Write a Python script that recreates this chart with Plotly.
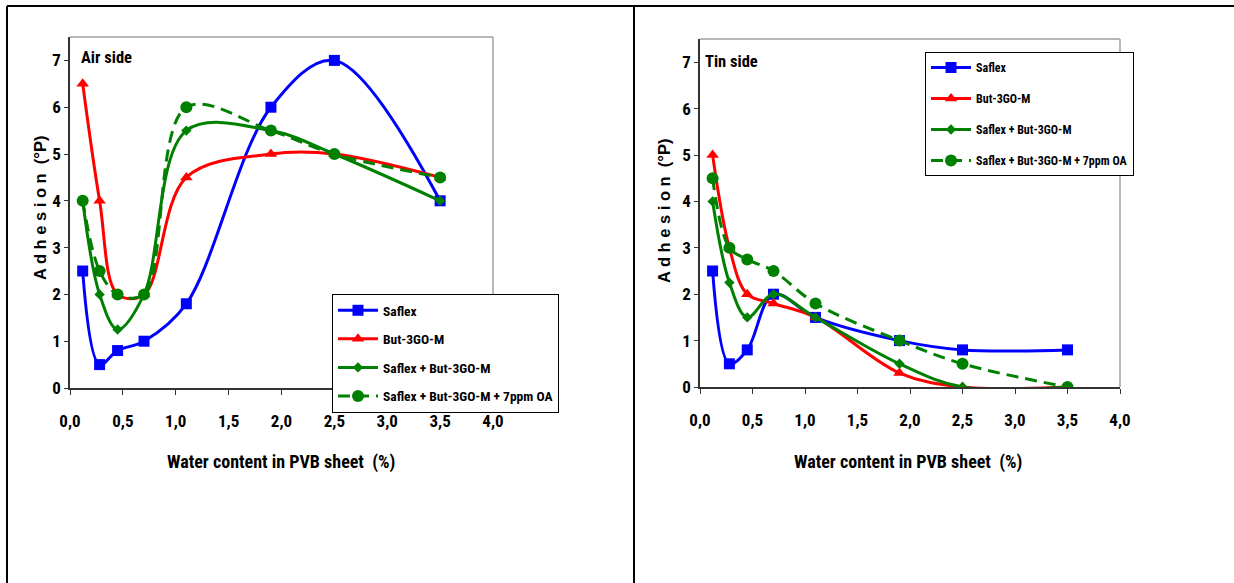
import plotly.graph_objects as go

water = [0.12, 0.28, 0.45, 0.7, 1.1, 1.9, 2.5, 3.5]

air_saflex = [2.5, 0.5, 0.8, 1.0, 1.8, 6.0, 7.0, 4.0]
air_but = [6.5, 4.0, 2.0, 2.0, 4.5, 5.0, 5.0, 4.5]
air_mix = [4.0, 2.0, 1.25, 2.0, 5.5, 5.5, 5.0, 4.0]
air_mix_oa = [4.0, 2.5, 2.0, 2.0, 6.0, 5.5, 5.0, 4.5]

tin_saflex = [2.5, 0.5, 0.8, 2.0, 1.5, 1.0, 0.8, 0.8]
tin_but = [5.0, 3.0, 2.0, 1.8, 1.5, 0.3, 0.0, 0.0]
tin_mix = [4.0, 2.25, 1.5, 2.0, 1.5, 0.5, 0.0, 0.0]
tin_mix_oa = [4.5, 3.0, 2.75, 2.5, 1.8, 1.0, 0.5, 0.0]

names = ["Saflex", "But-3GO-M", "Saflex + But-3GO-M", "Saflex + But-3GO-M + 7ppm OA"]
colors = ["#0000FF", "#FF0000", "#008000", "#008000"]
symbols = ["square", "triangle-up", "diamond", "circle"]
msizes = [11, 11, 8, 12]
dashes = ["solid", "solid", "solid", "12px,7px"]

NARROW = "Roboto Condensed, Liberation Sans Narrow, sans-serif"
BOLD = "Liberation Sans, Arial, sans-serif"

fig = go.Figure()

panels = [
    ("x", "y", "legend", [air_saflex, air_but, air_mix, air_mix_oa]),
    ("x2", "y2", "legend2", [tin_saflex, tin_but, tin_mix, tin_mix_oa]),
]
for xa, ya, leg, series in panels:
    for i, ys in enumerate(series):
        fig.add_trace(go.Scatter(
            x=water, y=ys, name=names[i], xaxis=xa, yaxis=ya, legend=leg,
            legendgroup=f"{leg}_{i}",
            mode="lines+markers",
            line=dict(color=colors[i], width=3, shape="spline", smoothing=1, dash=dashes[i]),
            marker=dict(symbol=symbols[i], size=msizes[i], color=colors[i]),
        ))

def xaxis_cfg(domain):
    return dict(domain=domain, range=[0, 4], tick0=0, dtick=0.5, tickformat=".1f",
                showgrid=False, zeroline=False, showline=True, linecolor="#333333", linewidth=1.5,
                ticks="outside", ticklen=5, tickcolor="#333333",
                ticklabelstandoff=12,
                tickfont=dict(family=NARROW, size=17, color="black", weight="bold"))

def yaxis_cfg(domain, anchor):
    return dict(domain=domain, anchor=anchor, range=[0, 7.5], tick0=0, dtick=1,
                showgrid=False, zeroline=False, showline=True, linecolor="#333333", linewidth=1.5,
                ticks="outside", ticklen=4, tickcolor="#333333",
                tickfont=dict(family=NARROW, size=17, color="black", weight="bold"))

W, H = 1234, 583
def px(x):
    return x / W
def py(y):
    return 1 - y / H

lx = [px(70), px(493)]
ly = [py(388), py(37)]
rx = [px(700), px(1120)]
ry = [py(387), py(39)]

def legend_cfg(size, gap, x, y):
    return dict(bordercolor="black", borderwidth=1, bgcolor="white",
                font=dict(family=NARROW, size=size, color="black", weight="bold"),
                xanchor="left", yanchor="top", itemwidth=40, tracegroupgap=gap,
                x=x, y=y)

fig.update_layout(
    width=W, height=H,
    margin=dict(l=0, r=0, t=0, b=0, autoexpand=False),
    paper_bgcolor="white", plot_bgcolor="white",
    separators=", ",
    showlegend=True,
    xaxis=dict(**xaxis_cfg(lx), anchor="y"),
    yaxis=yaxis_cfg(ly, "x"),
    xaxis2=dict(**xaxis_cfg(rx), anchor="y2"),
    yaxis2=yaxis_cfg(ry, "x2"),
    legend=legend_cfg(13.5, 8, px(332), py(294)),
    legend2=legend_cfg(12, 12, px(925), py(52)),
)

shapes = [
    # outer frame
    dict(type="line", xref="paper", yref="paper", x0=px(7), x1=1, y0=py(6), y1=py(6), line=dict(color="black", width=2)),
    dict(type="line", xref="paper", yref="paper", x0=px(7), x1=px(7), y0=0, y1=py(6), line=dict(color="black", width=2)),
    dict(type="line", xref="paper", yref="paper", x0=px(634), x1=px(634), y0=0, y1=py(6), line=dict(color="black", width=2)),
    # plot area frames (top/right gray)
    dict(type="line", xref="paper", yref="paper", x0=lx[0], x1=lx[1], y0=ly[1], y1=ly[1], line=dict(color="#A0A0A0", width=1.5)),
    dict(type="line", xref="paper", yref="paper", x0=lx[1], x1=lx[1], y0=ly[0], y1=ly[1], line=dict(color="#A0A0A0", width=1.5)),
    dict(type="line", xref="paper", yref="paper", x0=rx[0], x1=rx[1], y0=ry[1], y1=ry[1], line=dict(color="#A0A0A0", width=1.5)),
    dict(type="line", xref="paper", yref="paper", x0=rx[1], x1=rx[1], y0=ry[0], y1=ry[1], line=dict(color="#A0A0A0", width=1.5)),
]
fig.update_layout(shapes=shapes)

ytitle = "A d h e s i o n  (°P)"
xtitle = "Water content in PVB sheet  (%)"
def text_ann(text, x, y, size, family, xanchor="center", angle=0):
    return dict(text=text, x=px(x), y=py(y), xref="paper", yref="paper", showarrow=False,
                xanchor=xanchor, yanchor="middle", textangle=angle,
                font=dict(family=family, size=size, color="black", weight="bold"))

ann = [
    text_ann(xtitle, 281, 462, 18, NARROW),
    text_ann(xtitle, 908, 462, 18, NARROW),
    text_ann(ytitle, 40, 208, 16.5, BOLD, angle=-90),
    text_ann(ytitle, 664, 211, 16.5, BOLD, angle=-90),
    text_ann("Air side", 79, 58, 16.5, NARROW, xanchor="left"),
    text_ann("Tin side", 703, 62, 16.5, NARROW, xanchor="left"),
]
fig.update_layout(annotations=ann)

fig.write_html("out.html")
